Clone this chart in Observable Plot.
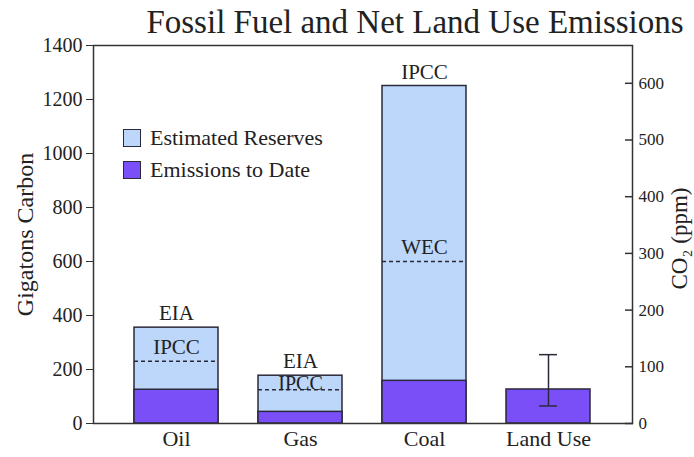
<!DOCTYPE html>
<html><head><meta charset="utf-8">
<script src="https://cdn.jsdelivr.net/npm/d3@7"></script>
<script src="https://cdn.jsdelivr.net/npm/@observablehq/plot@0.6"></script>
<style>
body{margin:0;background:#fff;}
#wrap{position:relative;width:694px;height:457px;font-family:"Liberation Serif","Times New Roman",Times,"DejaVu Serif",serif;}
#legend{position:absolute;left:123px;top:122px;font-size:22px;color:#222;}
.row{display:flex;align-items:center;height:32px;}
.sw{width:18px;height:18px;border:1.5px solid #2a2a3a;margin-right:9px;box-sizing:border-box}
</style></head><body><div id="wrap"><div id="legend"></div></div>
<script>
const categories = ["Oil", "Gas", "Coal", "Land Use"];
const reserves = [355, 177, 1250, null];
const emissions = [125, 43, 158, 126];
const topLabels = ["EIA", "EIA", "IPCC", null];
const altEstimates = [231, 125, 600, null];
const altLabels = ["IPCC", "IPCC", "WEC", null];
const landUseRange = [65, 255];
const gtcTicks = [0, 200, 400, 600, 800, 1000, 1200, 1400];
const ppmTicks = [0, 100, 200, 300, 400, 500, 600];
const gtcPerPpm = 2.1;
const seriesNames = ["Estimated Reserves", "Emissions to Date"];
const seriesColors = ["#bdd7fa", "#7b4ff7"];
const titleText = "Fossil Fuel and Net Land Use Emissions";
const leftLabel = "Gigatons Carbon";
const rightLabel = "CO\u2082 (ppm)";

const rows = categories.map((c, i) => ({cat: c, res: reserves[i], em: emissions[i], top: topLabels[i], alt: altEstimates[i], altLab: altLabels[i]}));
const resRows = rows.filter(d => d.res != null);
const altRows = rows.filter(d => d.alt != null);
const errRows = [{cat: "Land Use", lo: landUseRange[0], hi: landUseRange[1]}];
const ink = "#2a2a3a";
const font = "Liberation Serif, Times New Roman, DejaVu Serif, serif";

const chart = Plot.plot({
  width: 694, height: 457,
  marginLeft: 93, marginRight: 62, marginTop: 45, marginBottom: 34,
  style: {fontFamily: font, color: "#222", background: "white"},
  x: {domain: categories, paddingInner: 0.32, paddingOuter: 0.33, label: null},
  y: {domain: [0, 1400], label: null},
  marks: [
    Plot.barY(resRows, {x: "cat", y: "res", fill: seriesColors[0], stroke: ink, strokeWidth: 1.5}),
    Plot.barY(rows, {x: "cat", y: "em", fill: seriesColors[1], stroke: ink, strokeWidth: 1.5}),
    Plot.tickY(altRows, {x: "cat", y: "alt", stroke: ink, strokeWidth: 1.5, strokeDasharray: "4,3"}),
    Plot.text(resRows, {x: "cat", y: "res", text: "top", dy: -14, fontSize: 21, fill: "#222"}),
    Plot.text(altRows.filter(d => d.cat !== "Gas"), {x: "cat", y: "alt", text: "altLab", dy: -14, fontSize: 21, fill: "#222"}),
    Plot.text(altRows.filter(d => d.cat === "Gas"), {x: "cat", y: "alt", text: "altLab", dy: -6, fontSize: 20, fill: "#222"}),
    Plot.ruleX(errRows, {x: "cat", y1: "lo", y2: "hi", stroke: ink, strokeWidth: 1.5}),
    Plot.tickY(errRows, {x: "cat", y: "lo", stroke: ink, strokeWidth: 1.5, insetLeft: 33, insetRight: 33}),
    Plot.tickY(errRows, {x: "cat", y: "hi", stroke: ink, strokeWidth: 1.5, insetLeft: 33, insetRight: 33}),
    Plot.frame({stroke: "#333", strokeWidth: 1.5}),
    Plot.axisY(gtcTicks, {anchor: "left", tickSize: 7, tickPadding: 4, fontSize: 20, label: null, stroke: "#333", tickFormat: d => String(d)}),
    Plot.axisY(ppmTicks.map(p => p * gtcPerPpm), {anchor: "right", tickSize: 0, tickPadding: 6, fontSize: 17, label: null, tickFormat: d => String(Math.round(d / gtcPerPpm))}),
    Plot.axisY(ppmTicks.map(p => p * gtcPerPpm), {anchor: "right", tickSize: 8, dx: -8, fill: "none", label: null, stroke: "#333", strokeWidth: 1.5}),
    Plot.axisX({tickSize: 0, tickPadding: 7, fontSize: 22, label: null}),
    Plot.text([leftLabel], {frameAnchor: "left", textAnchor: "middle", lineAnchor: "middle", rotate: -90, dx: -68, fontSize: 24, fill: "#222"}),
    Plot.text([rightLabel], {frameAnchor: "right", textAnchor: "middle", lineAnchor: "middle", rotate: -90, dx: 47, dy: 4, fontSize: 23, fill: "#222"}),
    Plot.text([titleText], {frameAnchor: "top", textAnchor: "middle", lineAnchor: "middle", dx: 52, dy: -23, fontSize: 33, fill: "#222"})
  ]
});
document.getElementById("wrap").prepend(chart);

const leg = document.getElementById("legend");
seriesNames.forEach((n, i) => {
  const r = document.createElement("div"); r.className = "row";
  const s = document.createElement("div"); s.className = "sw"; s.style.background = seriesColors[i];
  const t = document.createElement("span"); t.textContent = n;
  r.appendChild(s); r.appendChild(t); leg.appendChild(r);
});
</script></body></html>
